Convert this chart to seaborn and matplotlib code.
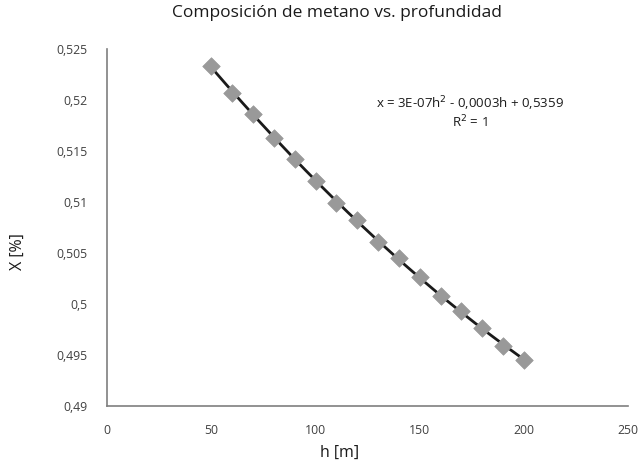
import numpy as np
import pandas as pd
import matplotlib
matplotlib.use('Agg')
import matplotlib.pyplot as plt
from matplotlib.ticker import FuncFormatter
import seaborn as sns

# datos
h = [50, 60, 70, 80, 90, 100, 110, 120, 130, 140, 150, 160, 170, 180, 190, 200]
x_frac = [0.5234, 0.5207, 0.5186, 0.5163, 0.5142, 0.5121, 0.5099, 0.5082,
          0.5061, 0.5045, 0.5026, 0.5008, 0.4993, 0.4976, 0.4959, 0.4945]
x_ticks = [0, 50, 100, 150, 200, 250]
y_ticks = [0.49, 0.495, 0.5, 0.505, 0.51, 0.515, 0.52, 0.525]
eq_text = 'x = 3E-07h$^2$ - 0,0003h + 0,5359\nR$^2$ = 1'

df = pd.DataFrame({'h': h, 'X': x_frac})

# linea de tendencia polinomica (grado 2)
coef = np.polyfit(df['h'], df['X'], 2)
h_fit = np.linspace(min(h), max(h), 200)
fit = pd.DataFrame({'h': h_fit, 'X': np.polyval(coef, h_fit)})

sns.set_style('white')
plt.rcParams['font.family'] = ['Open Sans', 'DejaVu Sans']

fig = plt.figure(figsize=(6.41, 4.66), dpi=100)
ax = fig.add_axes([0.1674, 0.1294, 0.8126, 0.7648])

sns.lineplot(data=fit, x='h', y='X', ax=ax, color='#1a1a1a', linewidth=2, zorder=2)
sns.scatterplot(data=df, x='h', y='X', ax=ax, marker='D', s=80,
                color='#999999', edgecolor='#999999', linewidth=0.5, zorder=3)

ax.set_xlim(0, 250)
ax.set_ylim(0.49, 0.525)
ax.set_xticks(x_ticks)
ax.set_yticks(y_ticks)
ax.yaxis.set_major_formatter(FuncFormatter(lambda v, p: f'{v:g}'.replace('.', ',')))

for s in ['top', 'right']:
    ax.spines[s].set_visible(False)
for s in ['left', 'bottom']:
    ax.spines[s].set_color('#7f7f7f')
    ax.spines[s].set_linewidth(1.2)
ax.tick_params(axis='both', direction='out', length=5, width=1,
               color='#7f7f7f', labelcolor='#404040', labelsize=8.8, pad=9)
ax.tick_params(axis='x', pad=8)

ax.set_xlabel('')
ax.set_ylabel('')
fig.text(0.526, 0.972, 'Composición de metano vs. profundidad',
         ha='center', va='center', fontsize=12.5, color='#1a1a1a')
fig.text(0.53, 0.028, 'h [m]', ha='center', va='center', fontsize=11.5, color='#1a1a1a')
fig.text(0.028, 0.46, 'X [%]', ha='center', va='center', rotation=90,
         fontsize=11.5, color='#1a1a1a')

ax.text(174, 0.5188, eq_text, ha='center', va='center', fontsize=9.5,
        color='#1a1a1a', linespacing=1.05)

fig.savefig('out.png', dpi=100)
